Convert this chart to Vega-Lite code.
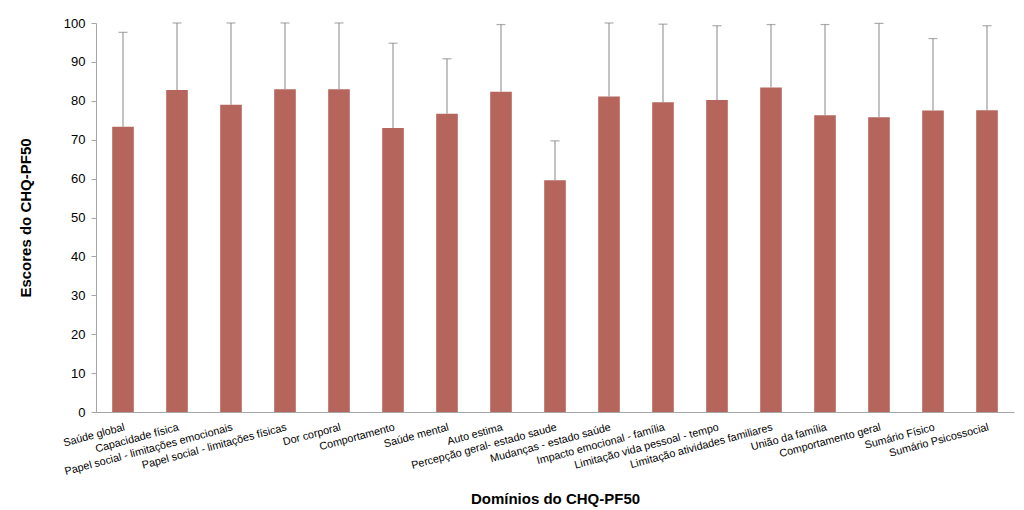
{
  "$schema": "https://vega.github.io/schema/vega-lite/v6.json",
  "autosize": "none",
  "width": 918,
  "height": 389,
  "padding": {"left": 96, "top": 23, "right": 10, "bottom": 98},
  "background": "white",
  "config": {
    "view": {"stroke": null},
    "font": "Liberation Sans",
    "axis": {"grid": false, "domainColor": "#a6a6a6", "tickColor": "#a6a6a6", "labelColor": "#000000", "titleColor": "#000000", "labelFont": "Liberation Sans", "titleFont": "Liberation Sans"},
    "axisY": {
      "titleFontSize": 15, "titleFontWeight": "bold", "titlePadding": 30,
      "labelFontSize": 13, "labelOverlap": false, "tickCount": 10,
      "values": [0,10,20,30,40,50,60,70,80,90,100],
      "tickSize": 5, "labelPadding": 6
    }
  },
  "data": {
    "values": [
      {"dominio": "Saúde global", "media": 73.3, "sup": 97.6},
      {"dominio": "Capacidade física", "media": 82.8, "sup": 100},
      {"dominio": "Papel social - limitações emocionais", "media": 79.0, "sup": 100},
      {"dominio": "Papel social - limitações físicas", "media": 83.0, "sup": 100},
      {"dominio": "Dor corporal", "media": 83.0, "sup": 100},
      {"dominio": "Comportamento", "media": 73.0, "sup": 94.8},
      {"dominio": "Saúde mental", "media": 76.7, "sup": 90.8},
      {"dominio": "Auto estima", "media": 82.3, "sup": 99.6},
      {"dominio": "Percepção geral- estado saude", "media": 59.6, "sup": 69.7},
      {"dominio": "Mudanças - estado saúde", "media": 81.1, "sup": 100},
      {"dominio": "Impacto emocional - família", "media": 79.6, "sup": 99.7},
      {"dominio": "Limitação vida pessoal - tempo", "media": 80.2, "sup": 99.3},
      {"dominio": "Limitação atividades familiares", "media": 83.4, "sup": 99.6},
      {"dominio": "União da família", "media": 76.3, "sup": 99.6},
      {"dominio": "Comportamento geral", "media": 75.8, "sup": 99.9},
      {"dominio": "Sumário Físico", "media": 77.5, "sup": 96.0},
      {"dominio": "Sumário Psicossocial", "media": 77.6, "sup": 99.3}
    ]
  },
  "encoding": {
    "x": {
      "field": "dominio", "type": "nominal", "sort": null,
      "scale": {"paddingInner": 0.6, "paddingOuter": 0.3},
      "axis": {
        "title": "Domínios do CHQ-PF50",
        "titleFontSize": 15, "titleFontWeight": "bold", "titlePadding": 15,
        "labelAngle": -15, "labelAlign": "right", "labelBaseline": "top",
        "labelFontSize": 10.8, "labelPadding": 9, "ticks": false, "labelLimit": 300, "labelOverlap": false
      }
    }
  },
  "layer": [
    {
      "mark": {"type": "bar", "color": "#b5655c"},
      "encoding": {
        "y": {
          "field": "media", "type": "quantitative", "title": "Escores do CHQ-PF50",
          "scale": {"domain": [0, 100]}
        }
      }
    },
    {
      "mark": {"type": "rule", "color": "#9a9a9a", "strokeWidth": 1.2},
      "encoding": {
        "y": {"field": "media", "type": "quantitative", "title": "Escores do CHQ-PF50"},
        "y2": {"field": "sup"}
      }
    },
    {
      "mark": {"type": "tick", "color": "#8a8a8a", "thickness": 1.2, "size": 9},
      "encoding": {
        "y": {"field": "sup", "type": "quantitative", "title": "Escores do CHQ-PF50"}
      }
    }
  ]
}
